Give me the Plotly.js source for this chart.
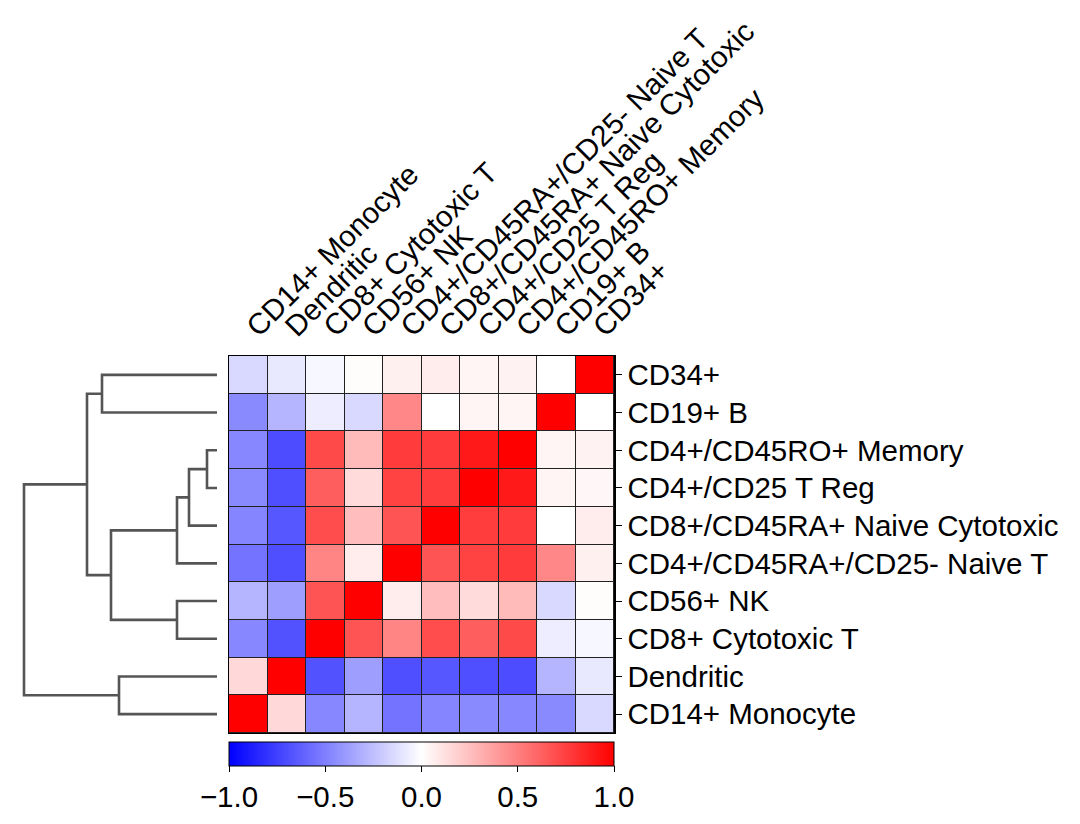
<!DOCTYPE html>
<html>
<head>
<meta charset="utf-8">
<script src="https://cdn.plot.ly/plotly-3.0.1.min.js"></script>
<style>html,body{margin:0;padding:0;background:#fff;}#chart{width:1080px;height:824px;}</style>
</head>
<body>
<div id="chart"></div>
<script>
// Cell types, in order (index 0 = bottom row / left column)
const cellTypes = [
  'CD14+ Monocyte',
  'Dendritic',
  'CD8+ Cytotoxic T',
  'CD56+ NK',
  'CD4+/CD45RA+/CD25- Naive T',
  'CD8+/CD45RA+ Naive Cytotoxic',
  'CD4+/CD25 T Reg',
  'CD4+/CD45RO+ Memory',
  'CD19+ B',
  'CD34+'
];

// Correlation rows (same order as cellTypes)
const rowCD14Mono     = [ 1.00,  0.15, -0.47, -0.29, -0.55, -0.48, -0.46, -0.47, -0.46, -0.15];
const rowDendritic    = [ 0.15,  1.00, -0.68, -0.38, -0.69, -0.66, -0.69, -0.70, -0.29, -0.09];
const rowCD8Cyto      = [-0.47, -0.68,  1.00,  0.67,  0.48,  0.70,  0.63,  0.71, -0.07, -0.03];
const rowCD56NK       = [-0.29, -0.38,  0.67,  1.00,  0.07,  0.26,  0.14,  0.27, -0.15,  0.01];
const rowCD4NaiveT    = [-0.55, -0.69,  0.48,  0.07,  1.00,  0.67,  0.74,  0.77,  0.47,  0.06];
const rowCD8NaiveCyto = [-0.48, -0.66,  0.70,  0.26,  0.67,  1.00,  0.76,  0.77,  0.00,  0.07];
const rowCD4TReg      = [-0.46, -0.69,  0.63,  0.14,  0.74,  0.76,  1.00,  0.90,  0.04,  0.03];
const rowCD4Memory    = [-0.47, -0.70,  0.71,  0.27,  0.77,  0.77,  0.90,  1.00,  0.04,  0.05];
const rowCD19B        = [-0.46, -0.29, -0.07, -0.15,  0.47,  0.00,  0.04,  0.04,  1.00,  0.00];
const rowCD34         = [-0.15, -0.09, -0.03,  0.01,  0.06,  0.07,  0.04,  0.05,  0.00,  1.00];

// Hierarchical clustering linkage (scipy style: leaves 0..9, new clusters 10..)
const linkLeft   = [6, 5,  4,  2, 12,  8, 14,  0, 16];
const linkRight  = [7, 10, 11, 3, 13,  9, 15,  1, 17];
const linkHeight = [0.10, 0.28, 0.40, 0.40, 1.06, 1.15, 1.30, 0.98, 1.93];

// Colorbar ticks
const cbTickVals = [-1, -0.5, 0, 0.5, 1];
const cbTickText = ['\u22121.0', '\u22120.5', '0.0', '0.5', '1.0'];

const zMatrix = [rowCD14Mono, rowDendritic, rowCD8Cyto, rowCD56NK, rowCD4NaiveT,
                 rowCD8NaiveCyto, rowCD4TReg, rowCD4Memory, rowCD19B, rowCD34];
const idx = cellTypes.map((_, i) => i);

const FONT = 'Liberation Sans, Arial, Helvetica, sans-serif';
const FS = 29.5;

const traces = [];
traces.push({
  type: 'heatmap',
  x: idx, y: idx, z: zMatrix,
  zmin: -1, zmax: 1,
  colorscale: [[0, 'rgb(0,0,255)'], [0.5, 'rgb(255,255,255)'], [1, 'rgb(255,0,0)']],
  xgap: 1, ygap: 1,
  hoverongaps: false,
  colorbar: {
    orientation: 'h',
    x: 0.39028, xanchor: 'center',
    y: 0.0995, yanchor: 'top',
    lenmode: 'pixels', len: 385,
    thicknessmode: 'pixels', thickness: 24,
    xpad: 0, ypad: 0,
    outlinewidth: 1, outlinecolor: '#000',
    ticks: 'outside', ticklen: 6, tickwidth: 1, tickcolor: '#000',
    tickvals: cbTickVals, ticktext: cbTickText,
    tickfont: {family: FONT, size: FS, color: '#000'}
  },
  xaxis: 'x', yaxis: 'y'
});

// Dendrogram from linkage
const pos = idx.slice();
const hgt = idx.map(() => 0);
for (let k = 0; k < linkHeight.length; k++) {
  const a = linkLeft[k], b = linkRight[k], h = linkHeight[k];
  traces.push({
    type: 'scatter', mode: 'lines',
    x: [hgt[a], h, h, hgt[b]],
    y: [pos[a], pos[a], pos[b], pos[b]],
    line: {color: 'rgb(85,85,85)', width: 2.6},
    hoverinfo: 'skip', showlegend: false,
    xaxis: 'x2', yaxis: 'y2'
  });
  pos.push((pos[a] + pos[b]) / 2);
  hgt.push(h);
}

const yDom = [0.11044, 0.56796];
const layout = {
  width: 1080, height: 824,
  margin: {l: 0, r: 0, t: 0, b: 0},
  paper_bgcolor: '#fff', plot_bgcolor: 'rgba(0,0,0,0)',
  font: {family: FONT, size: FS, color: '#000'},
  showlegend: false,
  xaxis: {
    domain: [0.21204, 0.56852], range: [-0.5, 9.5], anchor: 'y',
    side: 'top', tickvals: idx, ticktext: cellTypes, tickangle: -45,
    ticks: '', showgrid: false, zeroline: false,
    showline: true, mirror: true, linecolor: '#000', linewidth: 1.5,
    tickfont: {family: FONT, size: FS, color: '#000'},
    automargin: false, fixedrange: true
  },
  yaxis: {
    domain: yDom, range: [-0.5, 9.5], anchor: 'x',
    side: 'right', tickvals: idx, ticktext: cellTypes,
    ticks: 'outside', ticklen: 6, tickwidth: 1, tickcolor: '#000',
    showgrid: false, zeroline: false,
    showline: true, mirror: true, linecolor: '#000', linewidth: 1.5,
    tickfont: {family: FONT, size: FS, color: '#000'},
    automargin: false, fixedrange: true
  },
  xaxis2: {domain: [0.02037, 0.20093], range: [1.95, 0], anchor: 'y2', visible: false, fixedrange: true},
  yaxis2: {domain: yDom, range: [-0.5, 9.5], anchor: 'x2', visible: false, fixedrange: true},
  shapes: [{
    type: 'rect', xref: 'x', yref: 'y', x0: -0.5, x1: 9.5, y0: -0.5, y1: 9.5,
    fillcolor: '#222', line: {width: 0}, layer: 'below'
  }]
};

Plotly.newPlot('chart', traces, layout, {displayModeBar: false, staticPlot: true});
</script>
</body>
</html>
